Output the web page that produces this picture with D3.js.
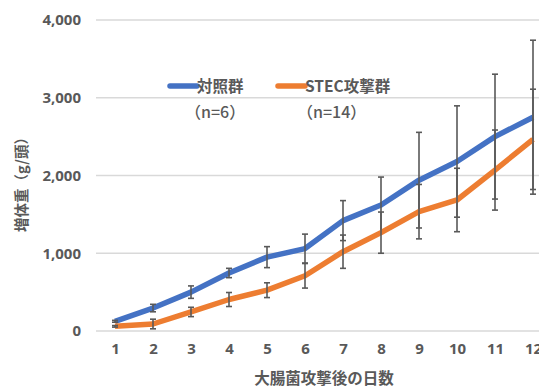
<!DOCTYPE html>
<html>
<head>
<meta charset="utf-8">
<script src="https://cdn.jsdelivr.net/npm/d3@7"></script>
<style>
  html, body { margin: 0; padding: 0; background: #fff; }
  svg { display: block; font-family: "Noto Sans CJK JP", "Noto Sans", sans-serif; }
</style>
</head>
<body>
<svg id="chart" width="539" height="387"></svg>
<script>
// Days after E. coli challenge
const days = [1, 2, 3, 4, 5, 6, 7, 8, 9, 10, 11, 12];
// Mean weight gain (g/head) and standard deviation per group
const controlMean = [125, 295, 500, 746, 950, 1060, 1420, 1620, 1940, 2180, 2500, 2750];
const controlSD   = [12, 48, 80, 60, 135, 186, 257, 360, 615, 716, 803, 990];
const stecMean    = [60, 90, 245, 405, 525, 710, 1020, 1265, 1535, 1685, 2070, 2465];
const stecSD      = [10, 62, 60, 90, 95, 158, 214, 265, 350, 408, 515, 645];
const yTicks = [0, 1000, 2000, 3000, 4000];
const seriesNames = ["対照群", "STEC攻撃群"];
const seriesNotes = ["（n=6）", "（n=14）"];
const xTitle = "大腸菌攻撃後の日数";
const yTitle = "増体重（g/頭）";

const series = [
  { name: seriesNames[0], note: seriesNotes[0], mean: controlMean, sd: controlSD, color: "#4472C4" },
  { name: seriesNames[1], note: seriesNotes[1], mean: stecMean, sd: stecSD, color: "#ED7D31" }
];

const svg = d3.select("#chart");
const plotL = 96, plotR = 552, plotT = 20, plotB = 331;

const x = d3.scalePoint().domain(days).range([plotL, plotR]).padding(0.5);
const y = d3.scaleLinear().domain([0, 4000]).range([plotB, plotT]);

const textColor = "#595959";

// horizontal gridlines
svg.append("g")
  .selectAll("line")
  .data(yTicks)
  .join("line")
  .attr("x1", plotL).attr("x2", plotR)
  .attr("y1", d => y(d)).attr("y2", d => y(d))
  .attr("stroke", "#d9d9d9").attr("stroke-width", 1.5);

// y axis tick labels
const yAxis = d3.axisLeft(y).tickValues(yTicks).tickFormat(d3.format(",")).tickSize(0).tickPadding(0);
const gy = svg.append("g").attr("transform", `translate(81,0)`).call(yAxis);
gy.select(".domain").remove();
gy.selectAll("text")
  .attr("fill", textColor).attr("font-size", 15).attr("font-weight", 700)
  .attr("font-family", "'Noto Sans', sans-serif");

// x axis tick labels
const xAxis = d3.axisBottom(x).tickSize(0).tickPadding(0);
const gx = svg.append("g").attr("transform", `translate(0,343)`).call(xAxis);
gx.select(".domain").remove();
gx.selectAll("text")
  .attr("fill", textColor).attr("font-size", 15).attr("font-weight", 700)
  .attr("font-family", "'Noto Sans', sans-serif");

// axis titles
svg.append("text")
  .attr("x", (plotL + plotR) / 2).attr("y", 384)
  .attr("text-anchor", "middle")
  .attr("fill", textColor).attr("font-size", 15.5).attr("font-weight", 700)
  .text(xTitle);

svg.append("text")
  .attr("transform", "translate(27,181) rotate(-90)")
  .attr("text-anchor", "middle")
  .attr("fill", textColor).attr("font-size", 14.5).attr("font-weight", 700)
  .text(yTitle);

// lines and error bars
const line = d3.line().x((d, i) => x(days[i])).y(d => y(d));

series.forEach(s => {
  svg.append("path")
    .datum(s.mean)
    .attr("d", line)
    .attr("fill", "none")
    .attr("stroke", s.color)
    .attr("stroke-width", 5.5)
    .attr("stroke-linejoin", "round");

  const eb = svg.append("g").attr("stroke", "#595959").attr("stroke-width", 1.6);
  s.mean.forEach((m, i) => {
    const cx = x(days[i]);
    const y1 = y(m - s.sd[i]), y2 = y(m + s.sd[i]);
    eb.append("line").attr("x1", cx).attr("x2", cx).attr("y1", y1).attr("y2", y2);
    eb.append("line").attr("x1", cx - 3).attr("x2", cx + 3).attr("y1", y1).attr("y2", y1);
    eb.append("line").attr("x1", cx - 3).attr("x2", cx + 3).attr("y1", y2).attr("y2", y2);
  });
});

// legend
const legendX = [170, 278];
const noteDx = [15, 19];
series.forEach((s, i) => {
  const g = svg.append("g").attr("transform", `translate(${legendX[i]},86)`);
  g.append("line").attr("x1", 0).attr("x2", 27).attr("y1", 0).attr("y2", 0)
    .attr("stroke", s.color).attr("stroke-width", 5.5).attr("stroke-linecap", "round");
  g.append("text").attr("x", 27).attr("y", 5.5)
    .attr("fill", textColor).attr("font-size", 15.5).attr("font-weight", 700)
    .text(s.name);
  g.append("text").attr("x", noteDx[i]).attr("y", 32)
    .attr("fill", textColor).attr("font-size", 16).attr("font-weight", 500)
    .text(s.note);
});
</script>
</body>
</html>
